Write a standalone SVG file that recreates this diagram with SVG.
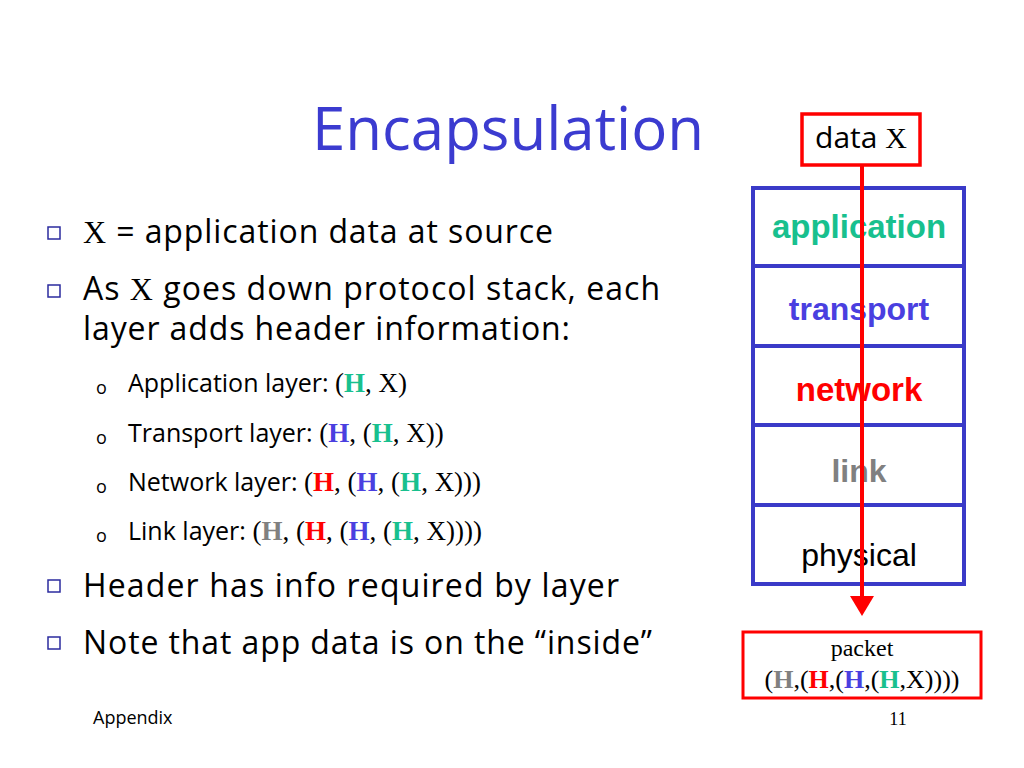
<svg xmlns="http://www.w3.org/2000/svg" width="1024" height="768" viewBox="0 0 1024 768">
<style>
.c{font-family:"Open Sans","DejaVu Sans",sans-serif;fill:#000}
.t{font-family:"Liberation Serif",serif}
.b{font-family:"Liberation Sans",Arial,sans-serif;font-weight:bold}
.g{fill:#18C08E}.u{fill:#4A3FE0}.r{fill:#FF0000}.y{fill:#808080}
.bul{fill:none;stroke:#2B2B9F;stroke-width:1.5}
</style>
<defs><marker id="ah" markerWidth="5" markerHeight="6" refX="4" refY="3" orient="auto" markerUnits="strokeWidth"><path d="M0,0L5,3L0,6z" fill="#FF0000"/></marker></defs>
<rect width="1024" height="768" fill="#fff"/>
<text x="508" y="150" text-anchor="middle" class="c" style="fill:#3B3BD0;font-size:60px" textLength="392">Encapsulation</text>
<g id="bullets">
<rect class="bul" x="48" y="227" width="12" height="12"/>
<rect class="bul" x="48" y="285" width="12" height="12"/>
<rect class="bul" x="48" y="580" width="12" height="12"/>
<rect class="bul" x="48" y="637" width="12" height="12"/>
<g class="c" style="font-size:32px">
<text x="83" y="243" textLength="470"><tspan class="t">X</tspan> = application data at source</text>
<text x="83" y="300" textLength="577">As <tspan class="t">X</tspan> goes down protocol stack, each</text>
<text x="83" y="340" textLength="487">layer adds header information:</text>
<text x="83" y="597" textLength="536">Header has info required by layer</text>
<text x="83" y="654" textLength="569">Note that app data is on the “inside”</text>
</g>
<g class="c" style="font-size:25px">
<text x="96" y="394" style="font-size:18px">o</text>
<text x="96" y="444" style="font-size:18px">o</text>
<text x="96" y="493" style="font-size:18px">o</text>
<text x="96" y="542" style="font-size:18px">o</text>
<text x="128" y="392">Application layer: <tspan class="t" font-size="27">(<tspan class="g" font-weight="bold">H</tspan>, X)</tspan></text>
<text x="128" y="442">Transport layer: <tspan class="t" font-size="27">(<tspan class="u" font-weight="bold">H</tspan>, (<tspan class="g" font-weight="bold">H</tspan>, X))</tspan></text>
<text x="128" y="491">Network layer: <tspan class="t" font-size="27">(<tspan class="r" font-weight="bold">H</tspan>, (<tspan class="u" font-weight="bold">H</tspan>, (<tspan class="g" font-weight="bold">H</tspan>, X)))</tspan></text>
<text x="128" y="540">Link layer: <tspan class="t" font-size="27">(<tspan class="y" font-weight="bold">H</tspan>, (<tspan class="r" font-weight="bold">H</tspan>, (<tspan class="u" font-weight="bold">H</tspan>, (<tspan class="g" font-weight="bold">H</tspan>, X))))</tspan></text>
</g>
</g>
<g id="stack" fill="none" stroke="#3A3AC8" stroke-width="4">
<rect x="753" y="188" width="211" height="396"/>
<line x1="753" y1="266" x2="964" y2="266"/>
<line x1="753" y1="346" x2="964" y2="346"/>
<line x1="753" y1="425" x2="964" y2="425"/>
<line x1="753" y1="505" x2="964" y2="505"/>
</g>
<g id="labels" text-anchor="middle">
<text x="859" y="238" class="b g" font-size="33">application</text>
<text x="859" y="320" class="b u" font-size="32">transport</text>
<text x="859" y="401" class="b r" font-size="33">network</text>
<text x="859" y="482" class="b y" font-size="32">link</text>
<text x="859" y="566" font-family="Liberation Sans,Arial,sans-serif" font-size="32">physical</text>
</g>
<g id="data"><rect x="802" y="114" width="118" height="51" fill="#fff" stroke="#FF0000" stroke-width="3.5"/>
<text x="861" y="148" text-anchor="middle" class="c" font-size="30">data <tspan class="t">X</tspan></text></g>
<g id="connectors"><line x1="862" y1="166" x2="862" y2="612" stroke="#FF0000" stroke-width="4" marker-end="url(#ah)"/></g>
<g id="packet"><rect x="743" y="632" width="238" height="66" fill="#fff" stroke="#FF0000" stroke-width="3"/>
<text x="862" y="656" text-anchor="middle" class="t" font-size="24">packet</text>
<text x="862" y="688" text-anchor="middle" class="t" font-size="26">(<tspan class="y" font-weight="bold">H</tspan>,(<tspan class="r" font-weight="bold">H</tspan>,(<tspan class="u" font-weight="bold">H</tspan>,(<tspan class="g" font-weight="bold">H</tspan>,X))))</text></g>
<text x="93" y="724" class="c" font-size="18">Appendix</text>
<text x="898" y="725" text-anchor="middle" class="t" font-size="18">11</text>
</svg>
